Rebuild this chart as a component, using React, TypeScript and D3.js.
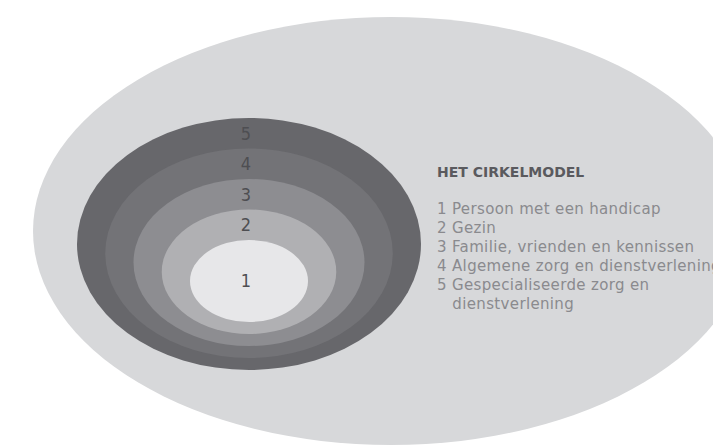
import React from 'react';
import { scaleLinear, scaleOrdinal } from 'd3';

// levels of the circle model, inner (1) to outer (5)
const levels = [1, 2, 3, 4, 5];
const levelLabels = ['1', '2', '3', '4', '5'];
const title = 'HET CIRKELMODEL';
const legendLines = [
  '1 Persoon met een handicap',
  '2 Gezin',
  '3 Familie, vrienden en kennissen',
  '4 Algemene zorg en dienstverlening',
  '5 Gespecialiseerde zorg en',
  '   dienstverlening',
];

const width = 713;
const height = 446;

export default function App() {
  // ring geometry grows linearly with level
  const rxScale = scaleLinear().domain([1, 5]).range([59, 172]);
  const ryScale = scaleLinear().domain([1, 5]).range([41, 126]);
  const cyScale = scaleLinear().domain([1, 5]).range([281, 244]);
  const cx = 249;

  const fillScale = scaleOrdinal<number, string>()
    .domain(levels)
    .range(['#e7e7e9', '#b0b0b3', '#8d8d91', '#737377', '#67676b']);

  const topOf = (l: number) => cyScale(l) - ryScale(l);
  const labelY = (l: number) =>
    l === 1 ? cyScale(1) : (topOf(l) + topOf(l - 1)) / 2;

  // legend rows
  const rowScale = scaleLinear().domain([0, 1]).range([209, 228]);

  return (
    <svg
      width={width}
      height={height}
      style={{ position: 'absolute', left: 0, top: 0, background: '#fff' }}
    >
      <ellipse cx={391} cy={231} rx={358} ry={214} fill='#d7d8da' />
      {[...levels].reverse().map(l => (
        <ellipse
          key={l}
          cx={cx}
          cy={cyScale(l)}
          rx={rxScale(l)}
          ry={ryScale(l)}
          fill={fillScale(l)}
        />
      ))}
      {levels.map((l, i) => (
        <text
          key={'lab' + l}
          x={cx - 3}
          y={labelY(l)}
          dy='0.36em'
          textAnchor='middle'
          fontFamily='DejaVu Sans Condensed, DejaVu Sans'
          fontSize={18}
          fill='#4e4e52'
        >
          {levelLabels[i]}
        </text>
      ))}
      <text
        x={437}
        y={172}
        dy='0.36em'
        fontFamily='DejaVu Sans'
        fontWeight='bold'
        fontSize={14}
        fill='#5a5a5e'
      >
        {title}
      </text>
      {legendLines.map((t, i) => (
        <text
          key={'leg' + i}
          x={437}
          y={rowScale(i)}
          dy='0.36em'
          fontFamily='DejaVu Sans'
          fontSize={15}
          letterSpacing={0.35}
          fill='#8a8a8e'
          style={{ whiteSpace: 'pre' }}
        >
          {t}
        </text>
      ))}
    </svg>
  );
}
